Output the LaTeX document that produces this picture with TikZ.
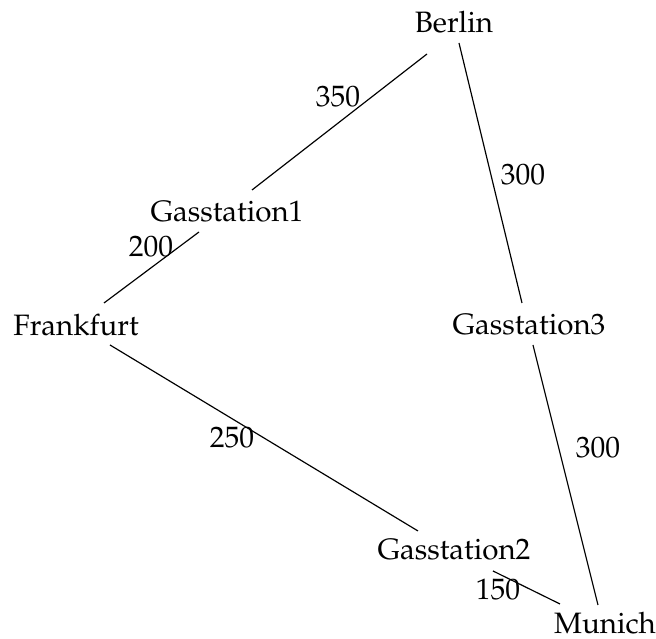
\documentclass[tikz,border=0pt]{standalone}
\usepackage[T1]{fontenc}
\usepackage{mathpazo}
\usetikzlibrary{calc}
\begin{document}
\begin{tikzpicture}[x=0.339pt,y=-0.339pt,
  city/.style={inner sep=0pt},
  wt/.style={inner sep=0pt},
  road/.style={draw=black, line width=0.4pt}]
\useasboundingbox (0,0) rectangle (656,639);
\node[city] (B)  at (454,22)  {Berlin};
\node[city] (G1) at (227,212) {Gasstation1};
\node[city] (F)  at (76,325)  {Frankfurt};
\node[city] (G3) at (529,325) {Gasstation3};
\node[city] (G2) at (454,550) {Gasstation2};
\node[city] (M)  at (605,623) {Munich};
\path[road] ($(B)+(-27,32)$) -- ($(G1)+(25,-22)$);
\path[road] ($(G1)+(-28,20)$) -- ($(F)+(28,-22)$);
\path[road] ($(B)+(5,21)$) -- ($(G3)+(-7,-22)$);
\path[road] ($(G3)+(4,20)$) -- ($(M)+(-7,-18)$);
\path[road] ($(F)+(34,20)$) -- ($(G2)+(-36,-19)$);
\path[road] ($(G2)+(39,21)$) -- ($(M)+(-45,-19)$);
\node[wt] (w1) at (338,97)  {350};
\node[wt] (w2) at (151,247) {200};
\node[wt] (w3) at (523,175) {300};
\node[wt] (w4) at (598,448) {300};
\node[wt] (w5) at (232,438) {250};
\node[wt] (w6) at (498,590) {150};
\end{tikzpicture}
\end{document}
